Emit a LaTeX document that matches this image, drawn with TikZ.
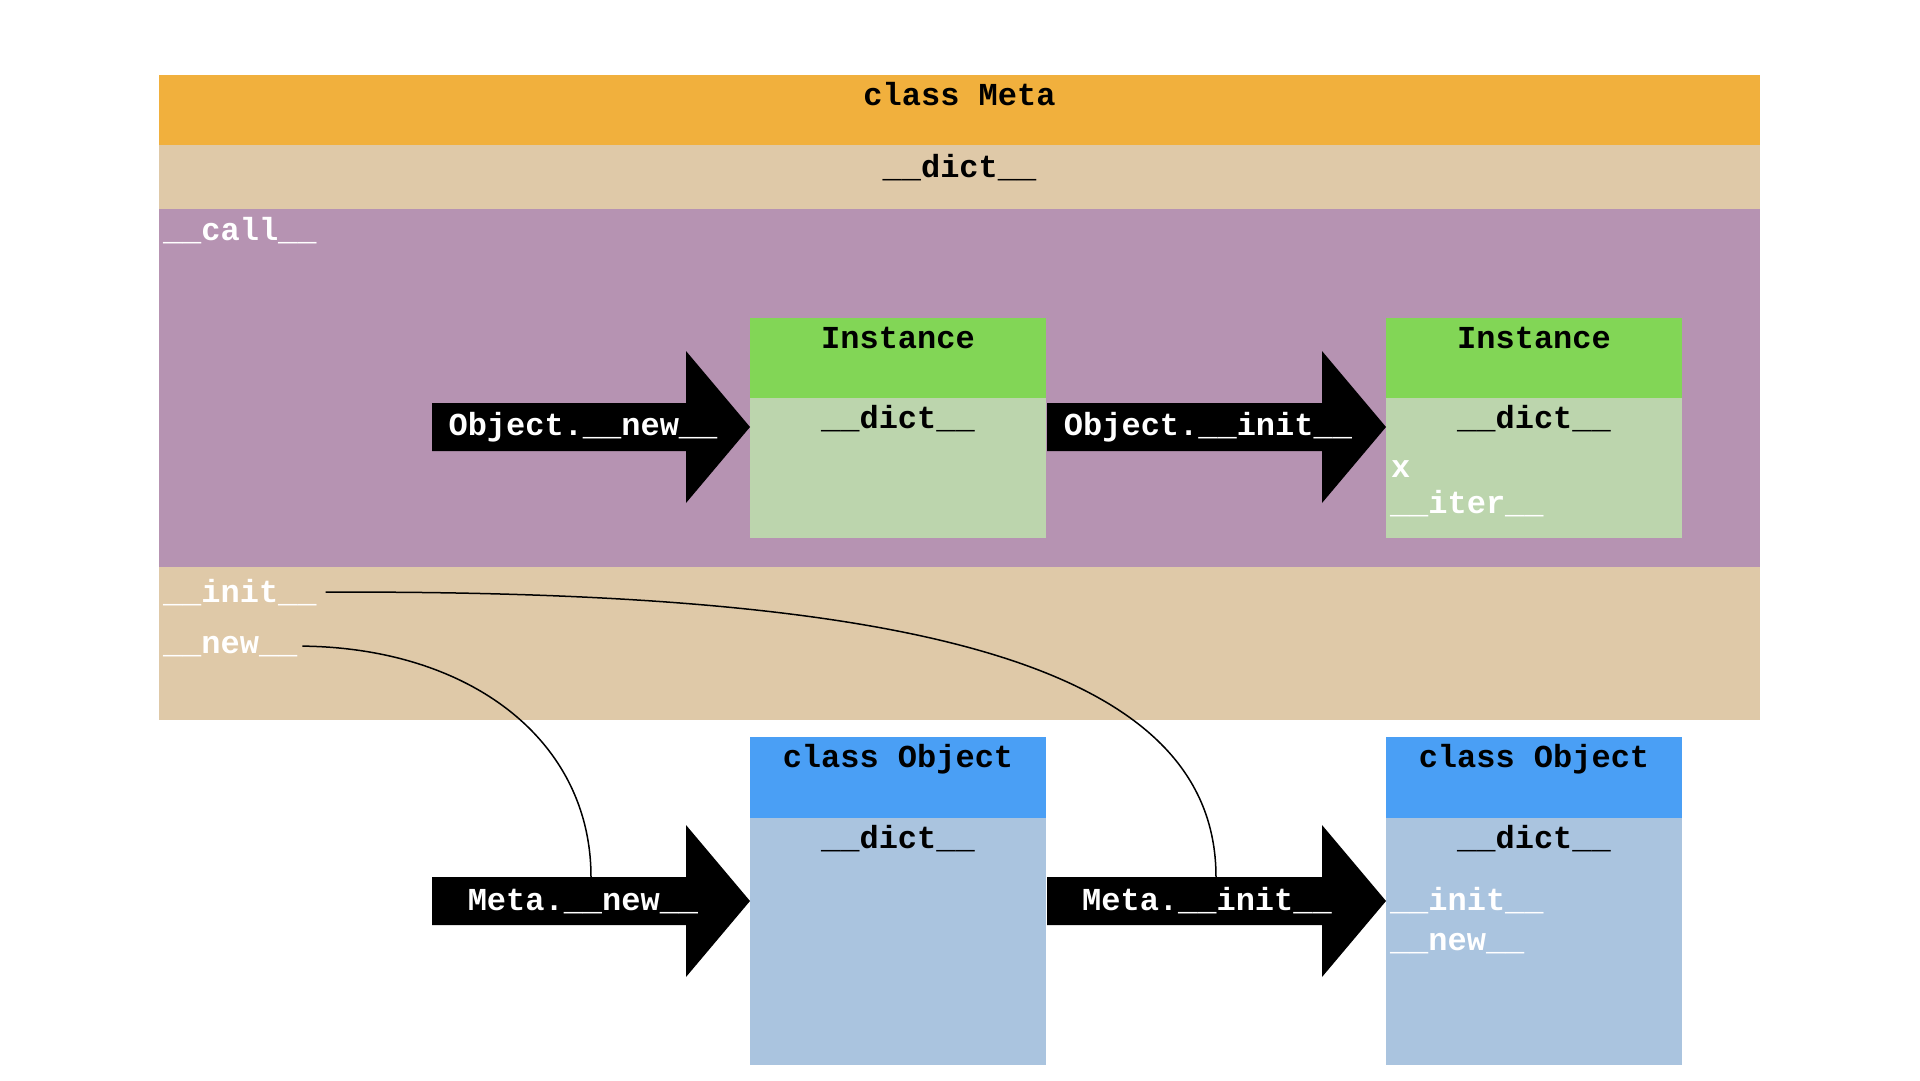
\documentclass[tikz,border=0pt]{standalone}
\usepackage{fontspec}
\setmonofont{Liberation Mono}
\definecolor{cOrange}{RGB}{241,176,61}
\definecolor{cTan}{RGB}{223,201,168}
\definecolor{cPurple}{RGB}{182,147,178}
\definecolor{cGreen}{RGB}{130,214,86}
\definecolor{cLGreen}{RGB}{188,213,173}
\definecolor{cBlue}{RGB}{74,159,245}
\definecolor{cLBlue}{RGB}{170,196,223}
\tikzset{
  lbl/.style={font=\ttfamily\bfseries\fontsize{32}{38}\selectfont, inner sep=0pt, outer sep=0pt},
  blk/.style={lbl, text=black, anchor=base},
  wht/.style={lbl, text=white, anchor=base west},
  arrlbl/.style={lbl, text=white, anchor=base},
  band/.style={draw=none, inner sep=0pt, outer sep=0pt, anchor=north west, rectangle},
  link/.style={draw=black, line width=1.5pt},
}
% block arrow: #1 x0, #2 head start, #3 tip, #4 centre y
\newcommand{\myblockarrow}[4]{%
  \fill[black] (#1,#4-24) -- (#2,#4-24) -- (#2,#4-76) -- (#3,#4) -- (#2,#4+76) -- (#2,#4+24) -- (#1,#4+24) -- cycle;}
\begin{document}
\begin{tikzpicture}[x=1pt,y=-1pt]
\useasboundingbox (0,0) rectangle (1920,1080);

% class Meta
\node[band, fill=cOrange, minimum width=1601pt, minimum height=70pt]  (metahead) at (159,75) {};
\node[band, fill=cTan,    minimum width=1601pt, minimum height=64pt]  (metadict) at (159,145) {};
\node[band, fill=cPurple, minimum width=1601pt, minimum height=358pt] (metacall) at (159,209) {};
\node[band, fill=cTan,    minimum width=1601pt, minimum height=153pt] (metaattr) at (159,567) {};
\node[blk] (tMeta) at (959.5,105) {class Meta};
\node[blk] (tMetaDict) at (959.5,177) {\_\_dict\_\_};
\node[wht] (tCall) at (163,240) {\_\_call\_\_};
\node[wht] (tInit) at (163,602) {\_\_init\_\_};
\node[wht] (tNew) at (163,653) {\_\_new\_\_};

% Instance boxes
\node[band, fill=cGreen,  minimum width=296pt, minimum height=80pt]  (inst1h) at (750,318) {};
\node[band, fill=cLGreen, minimum width=296pt, minimum height=140pt] (inst1b) at (750,398) {};
\node[blk] (tInst1) at (898,348) {Instance};
\node[blk] (tInst1d) at (898,428) {\_\_dict\_\_};

\node[band, fill=cGreen,  minimum width=296pt, minimum height=80pt]  (inst2h) at (1386,318) {};
\node[band, fill=cLGreen, minimum width=296pt, minimum height=140pt] (inst2b) at (1386,398) {};
\node[blk] (tInst2) at (1534,348) {Instance};
\node[blk] (tInst2d) at (1534,428) {\_\_dict\_\_};
\node[wht] (tX) at (1391,477) {x};
\node[wht] (tIter) at (1390,513) {\_\_iter\_\_};

% class Object boxes
\node[band, fill=cBlue,  minimum width=296pt, minimum height=81pt]  (obj1h) at (750,737) {};
\node[band, fill=cLBlue, minimum width=296pt, minimum height=247pt] (obj1b) at (750,818) {};
\node[blk] (tObj1) at (898,767) {class Object};
\node[blk] (tObj1d) at (898,848) {\_\_dict\_\_};

\node[band, fill=cBlue,  minimum width=296pt, minimum height=81pt]  (obj2h) at (1386,737) {};
\node[band, fill=cLBlue, minimum width=296pt, minimum height=247pt] (obj2b) at (1386,818) {};
\node[blk] (tObj2) at (1534,767) {class Object};
\node[blk] (tObj2d) at (1534,848) {\_\_dict\_\_};
\node[wht] (tObj2i) at (1390,910) {\_\_init\_\_};
\node[wht] (tObj2n) at (1390,950) {\_\_new\_\_};

% block arrows
\myblockarrow{432}{686}{750}{427}
\myblockarrow{1047}{1322}{1386}{427}
\myblockarrow{432}{686}{750}{901}
\myblockarrow{1047}{1322}{1386}{901}
\node[arrlbl] (aNew) at (583,435) {Object.\_\_new\_\_};
\node[arrlbl] (aInit) at (1208,435) {Object.\_\_init\_\_};
\node[arrlbl] (mNew) at (583,910) {Meta.\_\_new\_\_};
\node[arrlbl] (mInit) at (1207,910) {Meta.\_\_init\_\_};

% connector end points on the arrow shafts
\coordinate (mNewTop) at (591,877);
\coordinate (mInitTop) at (1216,877);

\draw[link] ([xshift=5pt]tNew.east) .. controls (470,648) and (591,740) .. (mNewTop);
\draw[link] ([xshift=9pt]tInit.east) .. controls (900,590) and (1216,660) .. (mInitTop);
\end{tikzpicture}
\end{document}
